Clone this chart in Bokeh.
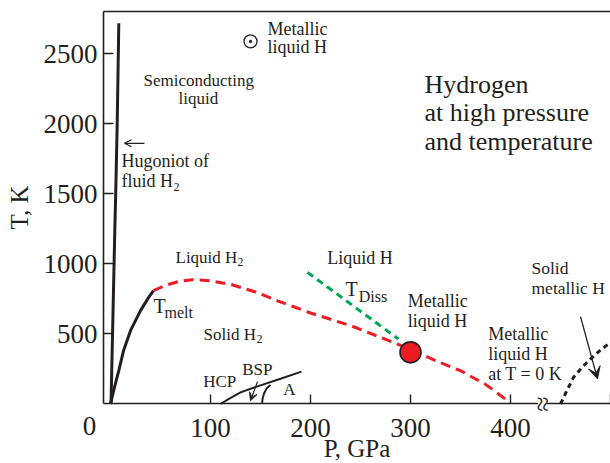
import numpy as np
from bokeh.plotting import figure
from bokeh.models import Range1d, FixedTicker, Arrow, VeeHead, OpenHead, LinearAxis
from bokeh.core.properties import value
from bokeh.embed import file_html
from bokeh.resources import INLINE

# ---------------- data (P in GPa, T in K) ----------------
hugoniot_P = [0.5, 2.5, 4.3, 5.2, 6.7, 8.3]
hugoniot_T = [0, 650, 1240, 1500, 2000, 2720]

melt_P = [0, 4, 8.3, 13, 20, 30, 38, 43]
melt_T = [0, 120, 238, 380, 524, 667, 760, 809]

liquid_P = [43, 55, 68, 82, 100, 120, 145, 167, 200, 240, 270, 300, 325, 350, 375, 397]
liquid_T = [809, 848, 875, 888, 880, 855, 800, 737, 650, 560, 476, 390, 310, 238, 140, 24]

diss_P = [197, 288]
diss_T = [940, 464]

hcp_P = [110, 118, 130, 147, 170, 191]
hcp_T = [0, 35, 83, 126, 180, 231]

phaseA_P = [151.5, 152, 153.5, 156, 160]
phaseA_T = [0, 35, 75, 110, 135]

solid_met_P = [450, 456, 463, 472, 480, 490, 500]
solid_met_T = [0, 90, 190, 265, 321, 385, 440]

critical_P = [300]
critical_T = [369]

sun_P = [140]
sun_T = [2590]

break_P = [432]
break_T = [0]

x_ticks = [100, 200, 300, 400, 500]
y_ticks = [500, 1000, 1500, 2000, 2500]
P_min, P_max = -7, 507
T_min, T_max = 0, 2800

INK = "#231f20"
RED = "#ed1c24"
GREEN = "#00a651"
FONT = "Liberation Serif"
TEXT_LIFT = 57  # K, baseline correction for text glyphs

# the whole canvas is the frame; axes are pinned at fixed data locations
p = figure(width=610, height=463, x_range=Range1d(-110, 500), y_range=Range1d(-425, 2882),
           min_border_left=0, min_border_right=0, min_border_top=0, min_border_bottom=0,
           toolbar_location=None, output_backend="svg")
p.grid.visible = False
p.outline_line_color = None
p.background_fill_color = "white"
p.border_fill_color = "white"

# axes
for ax in (p.xaxis, p.yaxis):
    ax.axis_line_color = INK
    ax.axis_line_width = 1.6
    ax.major_tick_line_color = INK
    ax.major_tick_line_width = 1.4
    ax.minor_tick_line_color = None
    ax.major_tick_out = 0
    ax.major_label_text_font = FONT
    ax.major_label_text_font_size = "27px"
    ax.major_label_text_color = INK
    ax.axis_label_text_font = FONT
    ax.axis_label_text_font_size = "25px"
    ax.axis_label_text_font_style = "normal"
    ax.axis_label_text_color = INK

p.xaxis.fixed_location = T_min
p.xaxis.bounds = (P_min, P_max)
p.xaxis.ticker = FixedTicker(ticks=x_ticks)
p.xaxis.major_label_overrides = {500: ""}
p.xaxis.major_tick_in = 9
p.xaxis.major_label_standoff = 15
p.xaxis.axis_label = "P, GPa"
p.xaxis.axis_label_standoff = -5

p.yaxis.fixed_location = P_min
p.yaxis.bounds = (T_min, T_max)
p.yaxis.ticker = FixedTicker(ticks=y_ticks)
p.yaxis.major_tick_in = 10
p.yaxis.major_label_standoff = 6
p.yaxis.axis_label = "T, K"
p.yaxis.axis_label_standoff = 8

# top frame line
top_axis = LinearAxis(fixed_location=T_max, bounds=(P_min, P_max), ticker=FixedTicker(ticks=[]),
                      axis_line_color=INK, axis_line_width=1.6, major_tick_line_color=None,
                      minor_tick_line_color=None, major_label_text_font_size="0px")
p.add_layout(top_axis, "above")

# curves
p.line(hugoniot_P, hugoniot_T, line_color=INK, line_width=3)
p.line(melt_P, melt_T, line_color=INK, line_width=3)
p.line(liquid_P, liquid_T, line_color=RED, line_width=3, line_dash="10 6")
p.line(diss_P, diss_T, line_color=GREEN, line_width=3, line_dash="7 5")
p.line(hcp_P, hcp_T, line_color=INK, line_width=2)
p.line(phaseA_P, phaseA_T, line_color=INK, line_width=2)
p.line(solid_met_P, solid_met_T, line_color=INK, line_width=3, line_dash="5 4")
p.scatter(critical_P, critical_T, size=21, fill_color=RED, line_color=INK, line_width=1.6)
p.scatter(sun_P, sun_T, marker="circle_dot", size=13, fill_color="white", line_color=INK, line_width=1.3)

# axis break mark (drawn over the axis line)
p.rect(x=break_P, y=break_T, width=9, height=60, fill_color="white", line_color=None, level="overlay")
p.text(x=break_P, y=break_T, text=["≈"], angle=np.pi / 2, text_font=value(FONT), text_font_size="28px",
       text_color=INK, text_align="center", text_baseline="middle", level="overlay")

# arrows
p.add_layout(Arrow(end=OpenHead(size=7, line_color=INK, line_width=1.2),
                   x_start=34, y_start=1862, x_end=14, y_end=1862, line_color=INK, line_width=1.2))
p.add_layout(Arrow(end=VeeHead(size=8, fill_color=INK, line_color=INK),
                   x_start=147, y_start=160, x_end=140, y_end=24, line_color=INK, line_width=1.2))
p.add_layout(Arrow(end=VeeHead(size=12, fill_color=INK, line_color=INK),
                   x_start=470, y_start=624, x_end=487, y_end=179, line_color=INK, line_width=1.3))

def txt(s, P, T, size, align="left"):
    p.text(x=[P], y=[T + TEXT_LIFT], text=[s], text_font=value(FONT), text_font_size=f"{size}px",
           text_color=INK, text_align=align, text_baseline="alphabetic")

# origin label
txt("0", -21, -211, 27, align="center")

# annotations
txt("Metallic", 157, 2625, 18)
txt("liquid H", 157, 2493, 18)
txt("Semiconducting", 33, 2257, 17)
txt("liquid", 68, 2124, 17)
txt("Hydrogen", 314, 2224, 26)
txt("at high pressure", 314, 2024, 26)
txt("and temperature", 314, 1816, 26)
txt("Hugoniot of", 11, 1679, 18)
txt("fluid H", 11, 1536, 18)
txt("2", 63, 1495, 12)
txt("Liquid H", 65, 988, 17)
txt("2", 127, 957, 12)
txt("T", 43, 643, 20)
txt("melt", 54, 595, 16)
txt("Solid H", 93, 440, 17)
txt("2", 146, 404, 12)
txt("HCP", 92.7, 107, 17)
txt("BSP", 131.7, 190, 17)
txt("A", 172.7, 47, 17)
txt("Liquid H", 216.7, 988, 18)
txt("T", 235, 761, 20)
txt("Diss", 248.3, 714, 16)
txt("Metallic", 297.3, 681, 18)
txt("liquid H", 297.3, 538, 18)
txt("Metallic", 377.7, 440, 18)
txt("liquid H", 377.7, 297, 18)
txt("at T = 0 K", 377.7, 154, 18)
txt("Solid", 421, 916, 17.5)
txt("metallic H", 421, 774, 17.5)

open("out.html", "w").write(file_html(p, INLINE))
